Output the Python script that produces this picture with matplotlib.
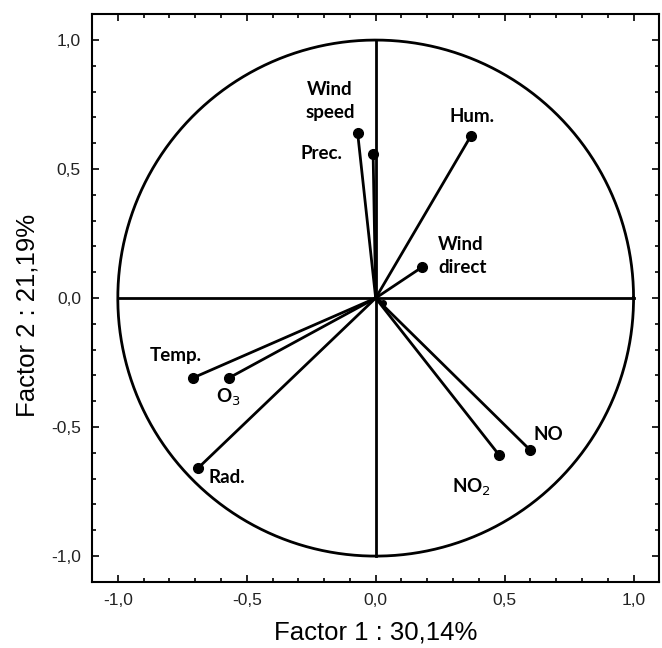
import numpy as np
import matplotlib.pyplot as plt
from matplotlib.ticker import MultipleLocator, FuncFormatter

# factor loadings (Factor 1, Factor 2) for each variable
variables = ["Wind\nspeed", "Prec.", "Hum.", "Wind\ndirect", "Temp.", "O$_3$", "Rad.", "NO", "NO$_2$", ""]
factor1 = [-0.07, -0.01, 0.37, 0.18, -0.71, -0.57, -0.69, 0.60, 0.48, 0.03]
factor2 = [0.64, 0.56, 0.63, 0.12, -0.31, -0.31, -0.66, -0.59, -0.61, -0.02]

# label offsets in points, with horizontal alignment
label_pos = [
    (-20, 23, "center"),
    (-37, 0, "center"),
    (1, 14, "center"),
    (11.5, 8, "left"),
    (-12, 16.5, "center"),
    (0, -14, "center"),
    (8, -6.5, "left"),
    (2, 11.5, "left"),
    (-34, -23, "left"),
    (0, 0, "center"),
]

plt.rcParams['font.family'] = ['Liberation Sans', 'DejaVu Sans']

fig = plt.figure(figsize=(6.62, 6.48), dpi=100)
ax = fig.add_axes([0.139, 0.102, 0.857, 0.876])

# unit circle and crosshair
t = np.linspace(0, 2 * np.pi, 400)
ax.plot(np.cos(t), np.sin(t), color='black', lw=2.0)
ax.plot([-1, 1], [0, 0], color='black', lw=2.0)
ax.plot([0, 0], [-1, 1], color='black', lw=2.0)

for name, x, y, (dx, dy, ha) in zip(variables, factor1, factor2, label_pos):
    ax.plot([0, x], [0, y], color='black', lw=2.0, solid_capstyle='round')
    ax.plot(x, y, 'o', color='black', ms=7 if name else 4)
    if name:
        ax.annotate(name, (x, y), xytext=(dx, dy), textcoords='offset points',
                    ha=ha, va='center', fontsize=13.5, fontweight='bold',
                    family=['Lato', 'DejaVu Sans'], linespacing=1.45,
                    multialignment='center' if ha == 'center' else 'left')

ax.set_xlim(-1.1, 1.1)
ax.set_ylim(-1.1, 1.1)
ax.xaxis.set_major_locator(MultipleLocator(0.5))
ax.yaxis.set_major_locator(MultipleLocator(0.5))
ax.xaxis.set_minor_locator(MultipleLocator(0.1))
ax.yaxis.set_minor_locator(MultipleLocator(0.1))
comma = FuncFormatter(lambda v, p: f"{v:.1f}".replace(".", ",").replace("-0,0", "0,0"))
ax.xaxis.set_major_formatter(comma)
ax.yaxis.set_major_formatter(comma)
ax.tick_params(which='both', direction='in', top=True, right=True, width=1.2)
ax.tick_params(which='major', length=5, labelsize=12.5, labelcolor='#222222', pad=8)
ax.tick_params(which='minor', length=3)
for s in ax.spines.values():
    s.set_linewidth(1.5)

ax.set_xlabel("Factor 1 : 30,14%", fontsize=18.5, labelpad=9)
ax.set_ylabel("Factor 2 : 21,19%", fontsize=18.5, labelpad=10)
ax.yaxis.set_label_coords(-0.093, 0.47)

fig.savefig("out.png", dpi=100)
